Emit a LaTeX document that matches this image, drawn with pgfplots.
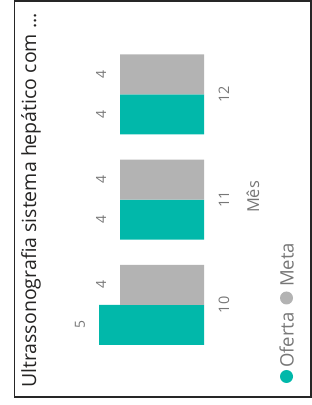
\documentclass[border=0pt]{standalone}
\usepackage{pgfplots}
\pgfplotsset{compat=1.18}
\usepackage{fontspec}
\setmainfont{Open Sans}
\definecolor{teal1}{HTML}{01B8AA}
\definecolor{gray1}{HTML}{B3B3B3}
\definecolor{lbl}{HTML}{777777}
\definecolor{ttl}{HTML}{252423}
\begin{document}
\begin{tikzpicture}
\path[use as bounding box] (0bp,0bp) rectangle (312bp,405bp);
\draw[line width=1.5bp, draw=black!85] (14.5bp,8bp) rectangle (311.2bp,404.2bp);
\begin{axis}[
  at={(141bp,205.3bp)}, anchor=center,
  scale only axis, width=126bp, height=315.75bp,
  xbar, bar width=40bp,
  x dir=reverse,
  xmin=0, xmax=6, ymin=-0.5, ymax=2.5,
  hide axis,
  clip=false,
  /pgf/number format/assume math mode=true,
  nodes near coords,
  nodes near coords style={rotate=90, anchor=south, inner sep=0pt, outer sep=14bp, text=lbl, font=\fontsize{14}{16}\selectfont},
]
\addplot[fill=teal1, draw=none, bar shift=-20bp] coordinates {(5,0) (4,1) (4,2)};
\addplot[fill=gray1, draw=none, bar shift=20bp] coordinates {(4,0) (4,1) (4,2)};
\node[rotate=90, text=lbl, font=\fontsize{14.5}{17}\selectfont] at (axis cs:-0.95,0) {10};
\node[rotate=90, text=lbl, font=\fontsize{14.5}{17}\selectfont] at (axis cs:-0.95,1) {11};
\node[rotate=90, text=lbl, font=\fontsize{14.5}{17}\selectfont] at (axis cs:-0.95,2) {12};
\end{axis}
\node[rotate=90, anchor=base west, inner sep=0pt, text=ttl, font=\fontsize{19.6}{23}\selectfont] at (36bp,17bp) {Ultrassonografia sistema hepático com ...};
\node[rotate=90, text=lbl, font=\fontsize{16.5}{19}\selectfont] at (253bp,208bp) {Mês};
\fill[teal1] (286.5bp,28.5bp) circle (6.5bp);
\node[rotate=90, anchor=base west, inner sep=0pt, text=lbl, font=\fontsize{18.6}{21}\selectfont] at (293.5bp,37bp) {Oferta};
\fill[gray1] (286.5bp,107bp) circle (6.5bp);
\node[rotate=90, anchor=base west, inner sep=0pt, text=lbl, font=\fontsize{18.6}{21}\selectfont] at (293.5bp,118bp) {Meta};
\end{tikzpicture}
\end{document}
